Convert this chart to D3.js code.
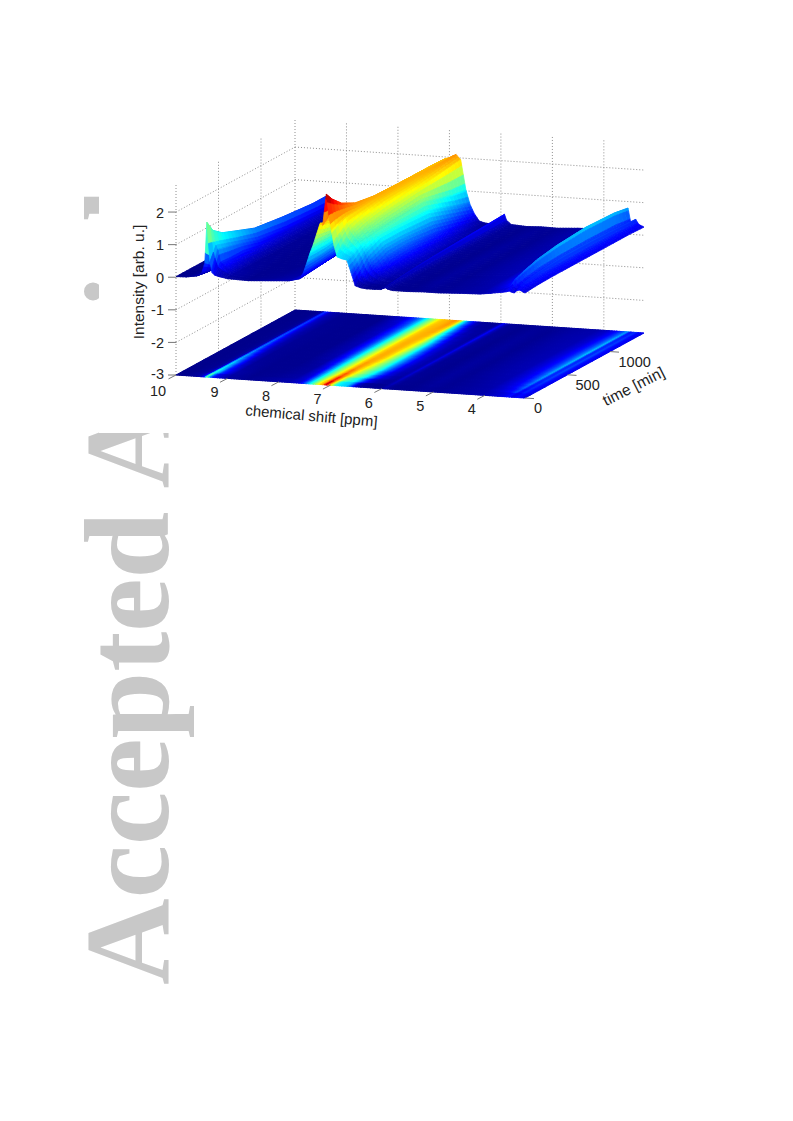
<!DOCTYPE html>
<html><head><meta charset="utf-8">
<style>html,body{margin:0;padding:0;background:#fff}svg{display:block}text{font-family:"Liberation Sans",Arial,sans-serif;fill:#222}</style>
<script src="https://cdn.jsdelivr.net/npm/d3@7"></script></head><body>
<script>
const ppmKnots=[10,9.8,9.6,9.5,9.44,9.4,9.37,9.34,9.3,9.25,9.15,9,8.6,8.2,7.8,7.6,7.53,7.46,7.4,7.34,7.27,7.2,7.15,7.08,7.03,6.98,6.93,6.87,6.78,6.68,6.6,6.52,6.42,6.3,6.15,6.02,5.97,5.93,5.89,5.8,5.5,5.2,4.9,4.5,4.1,3.9,3.75,3.65,3.58,3.53,3.48,3.43,3.38,3.32,3.22];
const timeKnots=[0,70,180,340,560,900,1240,1400];
const intensityT0=[.02,.03,.08,.18,.5,1.75,1.1,.55,.22,.14,.1,.06,.04,.08,.12,.2,.38,.7,1,1.25,1.6,1.95,1.89,2.85,2.2,1.75,1.3,.95,.9,.87,.5,.1,.05,.03,.03,.04,.08,.1,.06,.03,.03,.05,.05,.08,.1,.14,.18,.2,.22,.25,.22,.2,.28,.3,.22];
const intensityT70=[.02,.02,.05,.12,.35,1.4,1.05,.95,.8,.45,.3,.1,.03,.05,.1,.22,.4,.7,1,1.25,1.55,1.85,2.05,2.6,2.2,1.85,1.5,1.2,1.05,.95,.65,.3,.12,.06,.04,.05,.1,.14,.08,.04,.03,.06,.04,.07,.1,.17,.24,.3,.38,.5,.32,.3,.4,.35,.24];
const intensityT180=[.02,.02,.04,.08,.25,1.17,.95,.85,.72,.42,.25,.08,.03,.04,.08,.25,.45,.72,1,1.25,1.5,1.75,1.98,2.32,2.15,1.95,1.75,1.55,1.35,1.15,.95,.65,.38,.2,.1,.07,.12,.18,.1,.05,.03,.07,.04,.07,.11,.2,.28,.38,.5,.62,.38,.35,.45,.36,.26];
const intensityT340=[.02,.02,.03,.07,.2,1,.8,.7,.6,.42,.18,.06,.03,.03,.08,.3,.5,.78,1.05,1.28,1.52,1.75,1.9,2.1,2.05,1.95,1.85,1.7,1.5,1.3,1.15,.85,.55,.28,.14,.1,.14,.22,.12,.05,.03,.07,.04,.08,.12,.22,.32,.46,.6,.75,.44,.4,.5,.38,.27];
const intensityT560=[.02,.02,.03,.06,.16,.77,.62,.5,.4,.28,.13,.05,.03,.03,.12,.4,.6,.85,1.1,1.3,1.55,1.75,1.9,2,2.02,2,1.95,1.85,1.6,1.35,1.15,.85,.6,.32,.16,.1,.15,.26,.14,.05,.03,.07,.04,.09,.13,.24,.36,.52,.68,.85,.46,.42,.55,.38,.27];
const intensityT900=[.02,.02,.03,.05,.14,.64,.48,.36,.27,.18,.1,.05,.03,.03,.14,.45,.65,.9,1.12,1.32,1.55,1.75,1.9,1.97,2,2,1.97,1.9,1.75,1.4,1.1,.78,.45,.22,.12,.08,.16,.3,.16,.06,.03,.07,.04,.09,.13,.24,.38,.55,.72,.92,.46,.42,.55,.38,.27];
const intensityT1240=[.02,.02,.03,.05,.13,.55,.4,.3,.2,.14,.09,.04,.03,.03,.2,.5,.68,.92,1.14,1.34,1.55,1.76,1.9,1.96,1.98,2,2.03,2.04,1.88,1.1,.75,.48,.22,.1,.07,.06,.18,.34,.17,.06,.03,.06,.04,.09,.12,.2,.34,.5,.66,.88,.44,.4,.5,.36,.27];
const intensityT1400=[.02,.02,.03,.05,.13,.55,.38,.28,.18,.13,.08,.04,.03,.03,.25,.55,.72,.95,1.15,1.35,1.55,1.75,1.88,1.95,1.97,2,2.05,2.1,1.94,1.03,.6,.33,.1,.05,.04,.05,.18,.36,.18,.06,.03,.05,.04,.08,.1,.18,.3,.46,.6,.8,.38,.35,.47,.32,.25];
const intensityRows=[intensityT0,intensityT70,intensityT180,intensityT340,intensityT560,intensityT900,intensityT1240,intensityT1400];
const ppmTicks=[10,9,8,7,6,5,4];
const timeTicks=[0,500,1000];
const intensityTicks=[-3,-2,-1,0,1,2];
const jetStops=["#000084","#0000ff","#00ffff","#ffff00","#ff0000","#800000"];
const jetDomain=[0,0.32,1.06,1.78,2.5,2.85];

const W=793,H=1121;
const svg=d3.select("body").append("svg").attr("width",W).attr("height",H);

// Watermark
svg.append("text").attr("transform","translate(168,985) rotate(-90)")
  .style("font-family","'Liberation Serif',serif").style("font-weight","bold").style("font-size","120px").style("fill","#c8c8c8")
  .text("Accepted Article");
svg.append("rect").attr("x",99).attr("y",0).attr("width",W-99).attr("height",433).attr("fill","#fff");

// projection: separate linear scales for each data axis
const ppmX=d3.scaleLinear().domain([10,3.22]).range([0,349]);
const ppmY=d3.scaleLinear().domain([10,3.22]).range([0,23]);
const timeX=d3.scaleLinear().domain([0,1400]).range([0,119]);
const timeY=d3.scaleLinear().domain([0,1400]).range([0,-65]);
const zY=d3.scaleLinear().domain([-3,2.83]).range([0,-190]);
const ox=176,oy=375;
const px=(p,t)=>ox+ppmX(p)+timeX(t);
const py=(p,t,z)=>oy+ppmY(p)+timeY(t)+zY(z);
const jet=d3.scaleLinear().domain(jetDomain).range(jetStops).interpolate(d3.interpolateRgb).clamp(true);

// walls
const wall=svg.append("g").attr("fill","none").attr("stroke","#8e8e8e").attr("stroke-width",1).attr("stroke-dasharray","1 2");
const seg=(g,x1,y1,x2,y2)=>g.append("line").attr("x1",x1).attr("y1",y1).attr("x2",x2).attr("y2",y2);
const pMin=3.22,tMax=1400,zMax=2.83;
intensityTicks.slice(1).forEach(z=>{
  seg(wall,px(10,0),py(10,0,z),px(10,tMax),py(10,tMax,z));
  seg(wall,px(10,tMax),py(10,tMax,z),px(pMin,tMax),py(pMin,tMax,z));
});
timeTicks.concat([tMax]).forEach(t=>seg(wall,px(10,t),py(10,t,-3),px(10,t),py(10,t,zMax)));
ppmTicks.slice(1).forEach(p=>seg(wall,px(p,tMax),py(p,tMax,-3),px(p,tMax),py(p,tMax,zMax)));

// rendering mesh
const ppmFine=Array.from(new Set(d3.range(10,3.22,-0.03).concat(ppmKnots).map(v=>+v.toFixed(3)))).sort((a,b)=>b-a);
const rowScales=intensityRows.map(r=>d3.scaleLinear().domain(ppmKnots).range(r));
const columns=ppmFine.map(p=>d3.scaleLinear().domain(timeKnots).range(rowScales.map(s=>s(p))));
const tFine=Array.from(new Set(d3.range(0,1400,40).concat(timeKnots))).sort((a,b)=>a-b);
const tFloor=Array.from(new Set(d3.range(0,1400,80).concat(timeKnots))).sort((a,b)=>a-b);

function cells(ts,isFloor){
  const out=[];
  for(let j=ts.length-2;j>=0;j--){
    for(let i=0;i<ppmFine.length-1;i++){
      const p0=ppmFine[i],p1=ppmFine[i+1],t0=ts[j],t1=ts[j+1];
      const z00=columns[i](t0),z10=columns[i+1](t0),z01=columns[i](t1),z11=columns[i+1](t1);
      const h=v=>isFloor?-3:v;
      out.push({d:`M${px(p0,t0).toFixed(2)},${py(p0,t0,h(z00)).toFixed(2)}L${px(p1,t0).toFixed(2)},${py(p1,t0,h(z10)).toFixed(2)}L${px(p1,t1).toFixed(2)},${py(p1,t1,h(z11)).toFixed(2)}L${px(p0,t1).toFixed(2)},${py(p0,t1,h(z01)).toFixed(2)}Z`,
        c:jet((z00+z10+z01+z11)/4)});
    }
  }
  return out;
}
svg.append("g").attr("class","floor").selectAll("path").data(cells(tFloor,true)).join("path")
  .attr("d",d=>d.d).attr("fill",d=>d.c).attr("stroke",d=>d.c).attr("stroke-width",1);
svg.append("g").attr("class","surface").selectAll("path").data(cells(tFine,false)).join("path")
  .attr("d",d=>d.d).attr("fill",d=>d.c).attr("stroke",d=>d.c).attr("stroke-width",.8);

// ticks
const ticks=svg.append("g").attr("stroke","#777").attr("stroke-width",1);
intensityTicks.forEach(z=>seg(ticks,px(10,0),py(10,0,z),px(10,0)-8,py(10,0,z)));
ppmTicks.forEach(p=>seg(ticks,px(p,0),py(p,0,-3),px(p,0)-7.5,py(p,0,-3)+3.9));
timeTicks.forEach(t=>seg(ticks,px(pMin,t),py(pMin,t,-3),px(pMin,t)+9,py(pMin,t,-3)+.6));

// tick labels
const fs=14.5;
const lab=svg.append("g").style("font-size",fs+"px");
lab.selectAll(".z").data(intensityTicks).join("text").attr("text-anchor","end")
  .attr("x",164).attr("y",z=>py(10,0,z)+(z===-3?3.5:5.5)).text(d=>d);
lab.selectAll(".p").data(ppmTicks).join("text").attr("text-anchor","middle")
  .attr("x",p=>px(p,0)-(p===10?18:13)).attr("y",p=>py(p,0,-3)+(p===10?21:19)).text(d=>d);
lab.selectAll(".t").data(timeTicks).join("text").attr("text-anchor","start")
  .attr("x",t=>t===0?534:t===500?575.5:618.5).attr("y",t=>t===0?412.5:t===500?389.5:366.5).text(d=>d);

// axis titles
svg.append("text").attr("transform","translate(144,282) rotate(-90)").attr("text-anchor","middle").style("font-size","15.5px").text("Intensity [arb. u.]");
svg.append("text").attr("transform","translate(311,421) rotate(5)").attr("text-anchor","middle").style("font-size","15px").text("chemical shift [ppm]");
svg.append("text").attr("transform","translate(636,391) rotate(-27)").attr("text-anchor","middle").style("font-size","15.5px").text("time [min]");
</script></body></html>
